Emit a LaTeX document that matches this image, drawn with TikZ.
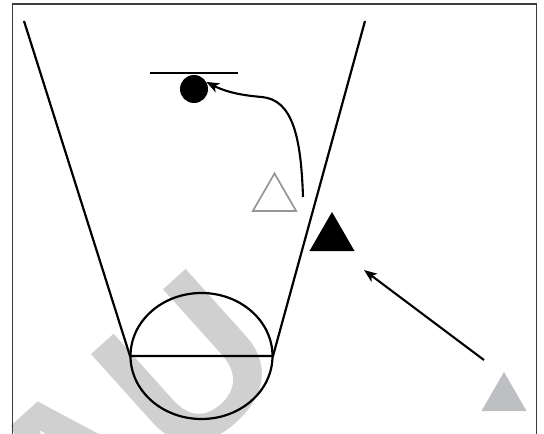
\documentclass[tikz,border=0pt]{standalone}
\usepackage{fontspec}
\newfontfamily\wmfont{Liberation Sans}
\usetikzlibrary{arrows.meta,shapes.geometric}
\definecolor{wmgray}{RGB}{208,208,208}
\definecolor{opengray}{RGB}{150,150,150}
\definecolor{fillgray}{RGB}{190,191,195}
\definecolor{framegray}{RGB}{60,60,60}
\tikzset{
  court/.style={line width=2.2pt, black},
  framestyle/.style={line width=1.2pt, framegray},
  arr/.style={line width=2.1pt, black, -{Stealth[length=13pt,width=10pt,inset=3.5pt]}},
  ball/.style={circle, fill=black, inner sep=0pt, minimum size=28pt},
  tri/.style={regular polygon, regular polygon sides=3, inner sep=0pt, minimum size=52pt},
  opentri/.style={tri, draw=opengray, line width=1.7pt, minimum size=50pt},
  blacktri/.style={tri, fill=black},
  graytri/.style={tri, fill=fillgray},
  wm/.style={rotate=42, text=wmgray, inner sep=0pt, font=\wmfont\bfseries\fontsize{212}{212}\selectfont},
  ring/.style={ellipse, draw=black, line width=2.2pt, inner sep=0pt, minimum width=142pt, minimum height=126pt}
}
\begin{document}
\begin{tikzpicture}[x=1pt,y=-1pt]
\useasboundingbox (0,0) rectangle (544,434);
\clip (0,0) rectangle (544,434);
% watermark
\node[wm] (wmark) at (131,418) {AU};
% frame
\coordinate (f1) at (12.5,450);
\coordinate (f2) at (12.5,4);
\coordinate (f3) at (536.5,4);
\coordinate (f4) at (536.5,450);
\draw[framestyle] (f1) -- (f2) -- (f3) -- (f4);
% lane
\coordinate (ltop) at (24,21);
\coordinate (rtop) at (365,21);
\coordinate (lbot) at (130,356);
\coordinate (rbot) at (273,356);
\draw[court] (ltop) -- (lbot) -- (rbot) -- (rtop);
\node[ring] (circ) at (201.5,356) {};
% basket line and ball
\coordinate (bl1) at (150,73);
\coordinate (bl2) at (238,73);
\draw[court] (bl1) -- (bl2);
\node[ball] (ball) at (194,89) {};
% players
\node[opentri] (p1) at (274.5,198.5) {};
\node[blacktri] (p2) at (332,238) {};
\node[graytri] (p3) at (504,398) {};
% arrows
\coordinate (cs) at (303,197);
\draw[arr] (cs) .. controls (301,135) and (292,100) .. (262,97) .. controls (236,95) and (222,90) .. (ball.30);
\coordinate (as) at (484,360);
\coordinate (ae) at (364,270);
\draw[arr] (as) -- (ae);
\end{tikzpicture}
\end{document}
